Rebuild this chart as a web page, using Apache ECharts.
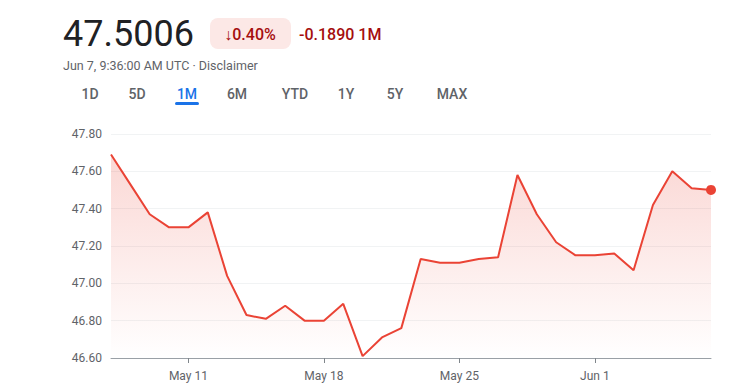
<!DOCTYPE html>
<html><head><meta charset="utf-8">
<script src="https://cdn.jsdelivr.net/npm/echarts@6/dist/echarts.min.js"></script>
<style>html,body{margin:0;padding:0;background:#fff}#c{width:738px;height:386px}</style>
</head><body><div id="c"></div>
<script>
const dates = ["May 7","May 8","May 9","May 10","May 11","May 12","May 13","May 14","May 15","May 16","May 17","May 18","May 19","May 20","May 21","May 22","May 23","May 24","May 25","May 26","May 27","May 28","May 29","May 30","May 31","Jun 1","Jun 2","Jun 3","Jun 4","Jun 5","Jun 6","Jun 7"];
const prices = [47.69,47.53,47.37,47.30,47.30,47.38,47.04,46.83,46.81,46.88,46.80,46.80,46.89,46.61,46.71,46.76,47.13,47.11,47.11,47.13,47.14,47.58,47.37,47.22,47.15,47.15,47.16,47.07,47.42,47.60,47.51,47.5006];
const tickLabels = ["May 11","May 18","May 25","Jun 1"];
const yTicks = [46.6,46.8,47.0,47.2,47.4,47.6,47.8];
const tabs = ["1D","5D","1M","6M","YTD","1Y","5Y","MAX"];
const tabX = [90,137,187,237,295,346,395,452];
const header = {price:"47.5006", pct:"↓0.40%", change:"-0.1890 1M", sub:"Jun 7, 9:36:00 AM UTC · Disclaimer"};

const chart = echarts.init(document.getElementById('c'), null, {renderer:'svg'});
const FONT = 'Roboto, "Noto Sans", sans-serif';
const graphics = [
  {type:'text', left:63, top:16, style:{text:header.price, font:'400 36px '+FONT, fill:'#202124'}},
  {type:'rect', shape:{x:210, y:18, width:81, height:31, r:8}, style:{fill:'#fce8e6'}},
  {type:'text', x:250, y:34, style:{text:header.pct, font:'500 16px '+FONT, fill:'#a50e0e', align:'center', verticalAlign:'middle'}},
  {type:'text', x:299, y:34, style:{text:header.change, font:'500 16px '+FONT, fill:'#a50e0e', align:'left', verticalAlign:'middle'}},
  {type:'text', x:63, y:65, style:{text:header.sub, font:'400 12.5px '+FONT, fill:'#5f6368', verticalAlign:'middle'}},
  {type:'rect', shape:{x:175, y:102, width:24, height:3, r:1.5}, style:{fill:'#1a73e8'}}
];
tabs.forEach((t,i)=>{
  graphics.push({type:'text', x:tabX[i], y:94, style:{text:t, font:'500 14px '+FONT, fill: t==='1M'?'#1a73e8':'#5f6368', align:'center', verticalAlign:'middle'}});
});

chart.setOption({
  animation:false,
  grid:{left:111, right:27, top:134, bottom:28, containLabel:false},
  xAxis:{type:'category', data:dates, boundaryGap:false,
    axisLine:{lineStyle:{color:'#9aa0a6', width:1}},
    axisTick:{show:true, length:5, interval:(i,v)=>tickLabels.includes(v), lineStyle:{color:'#80868b'}},
    axisLabel:{interval:(i,v)=>tickLabels.includes(v), color:'#5f6368', fontSize:12, fontFamily:FONT, margin:12},
    splitLine:{show:false}},
  yAxis:{type:'value', min:yTicks[0], max:yTicks[yTicks.length-1], interval:0.2,
    axisLine:{show:false}, axisTick:{show:false},
    axisLabel:{formatter:v=>v.toFixed(2), color:'#5f6368', fontSize:12, fontFamily:FONT, margin:9},
    splitLine:{lineStyle:{color:'#f1f3f4', width:1}}},
  series:[
    {type:'line', data:prices, symbol:'none', lineStyle:{color:'#ea4335', width:2},
     areaStyle:{color:new echarts.graphic.LinearGradient(0,0,0,1,[{offset:0,color:'rgba(234,67,53,0.3)'},{offset:1,color:'rgba(234,67,53,0)'}])}},
    {type:'scatter', data:[[dates.length-1, prices[prices.length-1]]], symbol:'circle', symbolSize:10, itemStyle:{color:'#ea4335', opacity:1}}
  ],
  graphic:graphics
});
</script></body></html>
